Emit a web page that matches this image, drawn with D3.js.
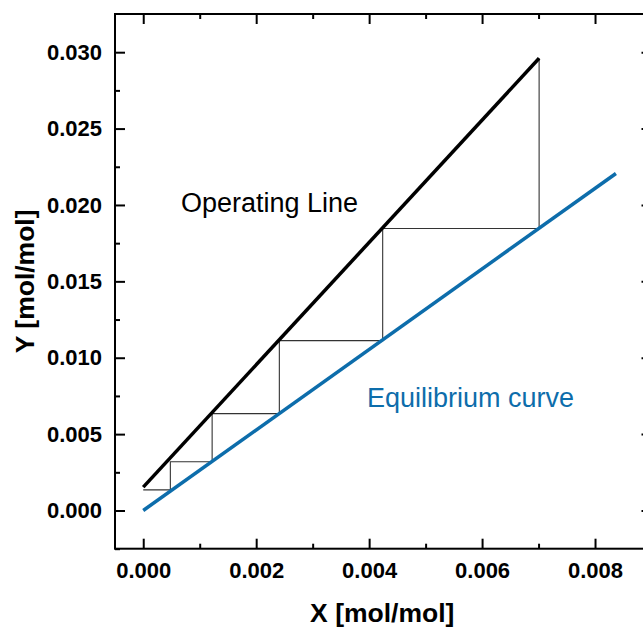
<!DOCTYPE html>
<html>
<head>
<meta charset="utf-8">
<script src="https://cdn.jsdelivr.net/npm/d3@7"></script>
<style>
  html, body { margin: 0; padding: 0; background: #fff; }
  svg { display: block; font-family: "Liberation Sans", Arial, sans-serif; }
</style>
</head>
<body>
<div id="chart"></div>
<script>
// tick values
const xTicks = [0, 0.002, 0.004, 0.006, 0.008];
const xMinor = [0.001, 0.003, 0.005, 0.007];
const yTicks = [0, 0.005, 0.010, 0.015, 0.020, 0.025, 0.030];
const yMinor = [-0.0025, 0.0025, 0.0075, 0.0125, 0.0175, 0.0225, 0.0275];

// operating line
const opX = [0, 0.00701];
const opY = [0.00153, 0.0296];

// equilibrium curve
const eqX = [0, 0.00837];
const eqY = [0, 0.02206];

// stage steps
const stepX = [0.00701, 0.00701, 0.00424, 0.00424, 0.00241, 0.00241, 0.00122, 0.00122, 0.00048, 0.00048, 0];
const stepY = [0.0296, 0.01846, 0.01846, 0.01112, 0.01112, 0.00634, 0.00634, 0.00319, 0.00319, 0.00135, 0.00135];

const W = 643, H = 628;
const plot = { left: 115, right: 651.5, top: 14, bottom: 548.7 };
const blue = "#0d6dab";

const svg = d3.select("#chart").append("svg")
    .attr("width", W)
    .attr("height", H);

const x = d3.scaleLinear().domain([-0.0005, 0.009]).range([plot.left, plot.right]);
const y = d3.scaleLinear().domain([-0.0025, 0.0325]).range([plot.bottom, plot.top]);

const fmt = d3.format(".3f");

// major ticks + labels
svg.append("g")
    .attr("transform", `translate(0,${plot.bottom})`)
    .call(d3.axisBottom(x).tickValues(xTicks).tickFormat(fmt).tickSizeInner(-10).tickSizeOuter(0).tickPadding(14));
svg.append("g")
    .attr("transform", `translate(0,${plot.top})`)
    .call(d3.axisTop(x).tickValues(xTicks).tickFormat("").tickSizeInner(-10).tickSizeOuter(0));
svg.append("g")
    .attr("transform", `translate(${plot.left},0)`)
    .call(d3.axisLeft(y).tickValues(yTicks).tickFormat(fmt).tickSizeInner(-10).tickSizeOuter(0).tickPadding(13));
svg.append("g")
    .attr("transform", `translate(${plot.right},0)`)
    .call(d3.axisRight(y).tickValues(yTicks).tickFormat("").tickSizeInner(-10).tickSizeOuter(0));

// minor ticks
svg.append("g").attr("transform", `translate(0,${plot.bottom})`)
    .call(d3.axisBottom(x).tickValues(xMinor).tickFormat("").tickSizeInner(-5).tickSizeOuter(0));
svg.append("g").attr("transform", `translate(0,${plot.top})`)
    .call(d3.axisTop(x).tickValues(xMinor).tickFormat("").tickSizeInner(-5).tickSizeOuter(0));
svg.append("g").attr("transform", `translate(${plot.left},0)`)
    .call(d3.axisLeft(y).tickValues(yMinor).tickFormat("").tickSizeInner(-5).tickSizeOuter(0));
svg.append("g").attr("transform", `translate(${plot.right},0)`)
    .call(d3.axisRight(y).tickValues(yMinor).tickFormat("").tickSizeInner(-5).tickSizeOuter(0));

svg.selectAll(".domain").remove();
svg.selectAll(".tick line").attr("stroke", "#000").attr("stroke-width", 2);
svg.selectAll(".tick text")
    .attr("fill", "#000")
    .style("font-size", "22px")
    .style("font-weight", "bold")
    .style("font-family", "'Liberation Sans', Arial, sans-serif");

// frame
svg.append("rect")
    .attr("x", plot.left).attr("y", plot.top)
    .attr("width", plot.right - plot.left).attr("height", plot.bottom - plot.top)
    .attr("fill", "none").attr("stroke", "#000").attr("stroke-width", 2);

const line = d3.line().x(d => x(d[0])).y(d => y(d[1]));

// steps
svg.append("path")
    .datum(stepX.map((v, i) => [v, stepY[i]]))
    .attr("d", line)
    .attr("fill", "none")
    .attr("stroke", "#333")
    .attr("stroke-width", 1.1);

// equilibrium curve
svg.append("path")
    .datum(eqX.map((v, i) => [v, eqY[i]]))
    .attr("d", line)
    .attr("fill", "none")
    .attr("stroke", blue)
    .attr("stroke-width", 3.5);

// operating line
svg.append("path")
    .datum(opX.map((v, i) => [v, opY[i]]))
    .attr("d", line)
    .attr("fill", "none")
    .attr("stroke", "#000")
    .attr("stroke-width", 3.5);

// annotations
svg.append("text")
    .attr("x", 181).attr("y", 212)
    .style("font-size", "27px")
    .attr("fill", "#000")
    .text("Operating Line");
svg.append("text")
    .attr("x", 367).attr("y", 407)
    .style("font-size", "27px")
    .attr("fill", blue)
    .text("Equilibrium curve");

// axis titles
svg.append("text")
    .attr("x", (plot.left + plot.right) / 2 - 1).attr("y", 622)
    .attr("text-anchor", "middle")
    .style("font-size", "26.5px").style("font-weight", "bold")
    .text("X [mol/mol]");
svg.append("text")
    .attr("transform", `translate(34,${(plot.top + plot.bottom) / 2}) rotate(-90)`)
    .attr("text-anchor", "middle")
    .style("font-size", "26.5px").style("font-weight", "bold")
    .text("Y [mol/mol]");
</script>
</body>
</html>
